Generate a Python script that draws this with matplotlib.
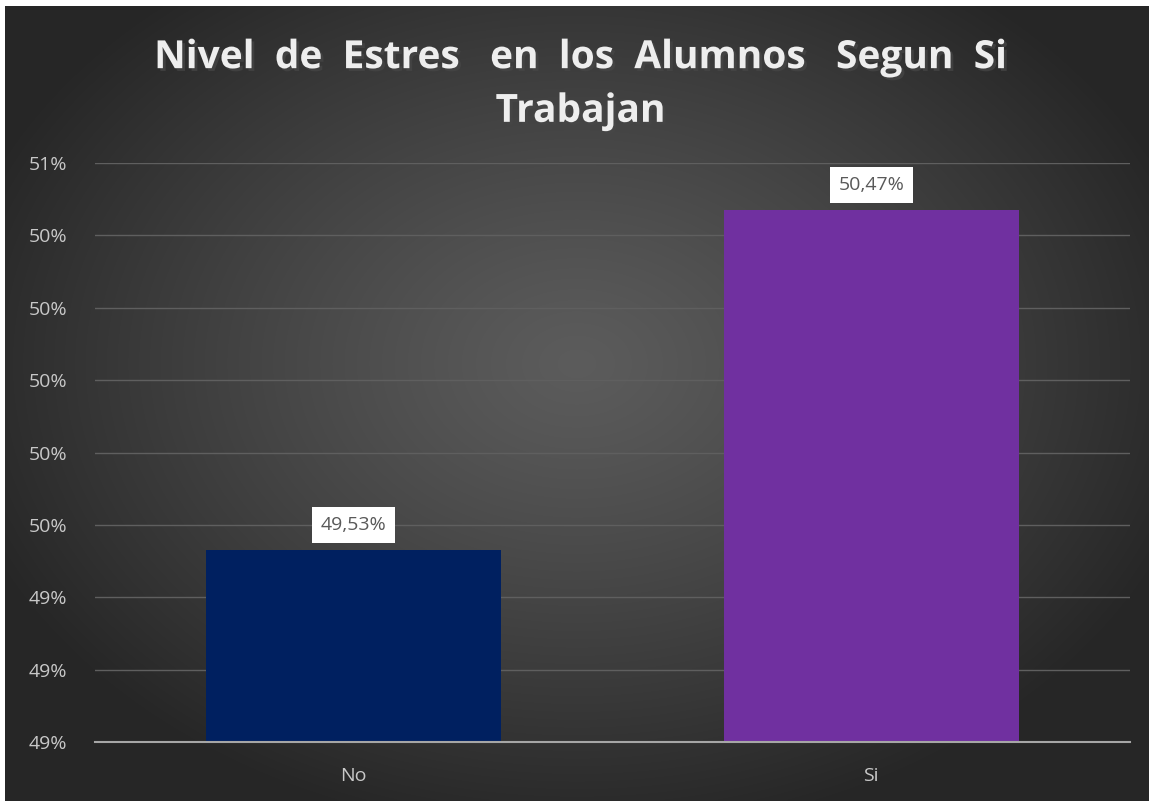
import numpy as np
import matplotlib.pyplot as plt
import matplotlib.patheffects as pe

categorias = ["No", "Si"]
valores = [49.53, 50.47]
etiquetas = ["49,53%", "50,47%"]
colores = ["#002060", "#7030A0"]
y_ticks = [49.0, 49.2, 49.4, 49.6, 49.8, 50.0, 50.2, 50.4, 50.6]
y_labels = ["49%", "49%", "49%", "50%", "50%", "50%", "50%", "50%", "51%"]

fig = plt.figure(figsize=(11.49, 8.01), dpi=100)
fig.patch.set_facecolor("white")

# fondo con degradado radial (estilo Excel)
bg = fig.add_axes([5 / 1149, 0, 1 - 5 / 1149, 1 - 6 / 801])
bg.set_axis_off()
yy, xx = np.mgrid[0:1:400j, 0:1:600j]
r = np.sqrt(((xx - 0.5) / 0.75) ** 2 + ((yy - 0.55) / 0.8) ** 2)
r = np.clip(r / 0.75, 0, 1)
gris = 0.36 - (0.36 - 0.15) * r ** 1.2
bg.imshow(np.dstack([gris, gris, gris]), extent=[0, 1, 0, 1], aspect="auto",
          origin="lower", interpolation="bicubic")

ax = fig.add_axes([95 / 1149, 1 - 742 / 801, 1035 / 1149, 579 / 801])
ax.patch.set_alpha(0)
x = np.arange(len(categorias))
ax.bar(x, valores, width=0.57, color=colores, zorder=3)

ax.set_xlim(-0.5, 1.5)
ax.set_ylim(49.0, 50.6)
ax.set_yticks(y_ticks)
ax.set_yticklabels(y_labels)
ax.set_xticks(x)
ax.set_xticklabels(categorias)
ax.tick_params(length=0, colors="#c8c8c8", labelsize=14)
ax.tick_params(axis="x", pad=18)
ax.tick_params(axis="y", pad=48)
for t in ax.get_yticklabels():
    t.set_horizontalalignment("left")
for t in ax.get_xticklabels() + ax.get_yticklabels():
    t.set_fontfamily("Open Sans")
ax.grid(axis="y", color="#5f5f5f", linewidth=1, zorder=0)
for s in ["top", "right", "left"]:
    ax.spines[s].set_visible(False)
ax.spines["bottom"].set_color("#a6a6a6")
ax.spines["bottom"].set_linewidth(1.5)
ax.spines["bottom"].set_zorder(4)

for xi, v, et in zip(x, valores, etiquetas):
    ax.annotate(et, (xi, v), xytext=(0, 18), textcoords="offset points",
                ha="center", va="center", fontsize=14, color="#595959",
                family="Open Sans",
                bbox=dict(boxstyle="square,pad=0.45", fc="white", ec="none"))

sombra = [pe.withSimplePatchShadow(offset=(2, -2), alpha=0.7)]
fig.text(0.505, 0.928, "Nivel  de  Estres   en  los  Alumnos   Segun  Si",
         ha="center", va="center", fontsize=28, fontweight="bold",
         family="Open Sans", color="#eeeeee", path_effects=sombra)
fig.text(0.505, 0.861, "Trabajan",
         ha="center", va="center", fontsize=28, fontweight="bold",
         family="Open Sans", color="#eeeeee", path_effects=sombra)

fig.savefig("out.png", dpi=100)
